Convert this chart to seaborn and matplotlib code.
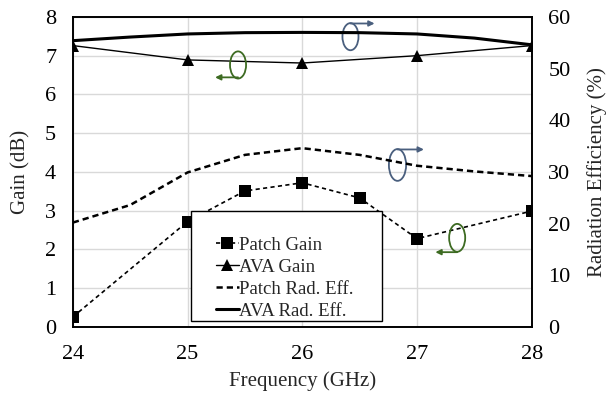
import numpy as np
import pandas as pd
import seaborn as sns
import matplotlib.pyplot as plt
from matplotlib.patches import Ellipse, Rectangle

# data
freq_gain = [24, 25, 25.5, 26, 26.5, 27, 28]
patch_gain = [0.26, 2.72, 3.51, 3.72, 3.33, 2.28, 2.99]
freq_ava = [24, 25, 26, 27, 28]
ava_gain = [7.26, 6.89, 6.81, 7.0, 7.26]
freq_eff = [24, 24.5, 25, 25.5, 26, 26.5, 27, 27.5, 28]
patch_eff = [20.2, 23.6, 29.9, 33.3, 34.6, 33.3, 31.2, 30.1, 29.2]
ava_eff = [55.4, 56.1, 56.7, 56.95, 57.0, 56.95, 56.7, 55.9, 54.6]

df_pg = pd.DataFrame({"Frequency": freq_gain, "Gain": patch_gain})
df_ag = pd.DataFrame({"Frequency": freq_ava, "Gain": ava_gain})
df_eff = pd.DataFrame({"Frequency": freq_eff, "Patch": patch_eff, "AVA": ava_eff})

sns.set_theme(style="white")
plt.rcParams["font.family"] = ["Liberation Serif", "DejaVu Serif"]

fig, ax1 = plt.subplots(figsize=(6.07, 3.93), dpi=100)
fig.subplots_adjust(left=0.120, right=0.876, bottom=0.168, top=0.957)
ax2 = ax1.twinx()

# gain on left axis
sns.lineplot(data=df_pg, x="Frequency", y="Gain", ax=ax1, color="black", lw=1.2,
             ls=(0, (2.5, 2)), marker="s", markersize=8, markeredgewidth=0,
             label="Patch Gain", legend=False)
sns.lineplot(data=df_ag, x="Frequency", y="Gain", ax=ax1, color="black", lw=1.0,
             marker="^", markersize=8, markeredgewidth=0,
             label="AVA Gain", legend=False)

# efficiency on right axis
sns.lineplot(data=df_eff, x="Frequency", y="Patch", ax=ax2, color="black", lw=1.8,
             ls=(0, (2.5, 1.6)), label="Patch Rad. Eff.", legend=False)
sns.lineplot(data=df_eff, x="Frequency", y="AVA", ax=ax2, color="black", lw=2.2,
             label="AVA Rad. Eff.", legend=False)

ax1.set_xlim(24, 28)
ax1.set_ylim(0, 8)
ax2.set_ylim(0, 60)
ax1.set_xticks([24, 25, 26, 27, 28])
ax1.set_yticks(range(0, 9))
ax2.set_yticks(range(0, 61, 10))
ax1.grid(True, color="#d9d9d9", lw=1.0)
ax1.set_axisbelow(True)
ax2.grid(False)

ax1.tick_params(axis="x", labelsize=16, length=0, pad=13, colors="black")
ax1.tick_params(axis="y", labelsize=16, length=0, pad=12, colors="black")
ax2.tick_params(axis="y", labelsize=16, length=0, pad=12, colors="black")
ax1.set_xlabel("Frequency (GHz)", fontsize=15)
ax1.set_ylabel("Gain (dB)", fontsize=15)
ax2.set_ylabel("Radiation Efficiency (%)", fontsize=15)
ax1.xaxis.set_label_coords(0.5, -0.142)
ax1.yaxis.set_label_coords(-0.092, 0.5)
ax2.yaxis.set_label_coords(1.121, 0.5)

for ax in (ax1, ax2):
    for s in ax.spines.values():
        s.set_color("black")
        s.set_linewidth(1.2)

# circle + arrow markers pointing to the axes
blue = "#4a5f7e"
green = "#3d6b22"
notes = [
    # (x, y, width, height, colour, arrow_y, arrow_x_end)
    (26.42, 7.49, 0.14, 0.70, blue, 7.83, 26.63),
    (25.44, 6.76, 0.14, 0.70, green, 6.44, 25.24),
    (26.83, 4.18, 0.15, 0.82, blue, 4.58, 27.06),
    (27.35, 2.30, 0.14, 0.72, green, 1.93, 27.16),
]
for x, y, w, h, c, ay, ax_end in notes:
    ax1.add_patch(Ellipse((x, y), w, h, fill=False, edgecolor=c, lw=1.3, zorder=5))
    ax1.annotate("", xy=(ax_end, ay), xytext=(x, ay),
                 arrowprops=dict(arrowstyle="-|>", color=c, lw=1.3,
                                 mutation_scale=8, shrinkA=0, shrinkB=0), zorder=5)

# legend box (Excel style, wide frame)
ax2.add_patch(Rectangle((0.257, 0.018), 0.416, 0.356, transform=ax2.transAxes,
                        facecolor="white", edgecolor="black", lw=1.0, zorder=9))
h1, l1 = ax1.get_legend_handles_labels()
h2, l2 = ax2.get_legend_handles_labels()
leg = ax2.legend(h1 + h2, l1 + l2, loc="lower left", bbox_to_anchor=(0.312, 0.024),
                 fontsize=13.5, frameon=False, handlelength=1.2, handletextpad=0.05,
                 labelspacing=0.26, borderpad=0, borderaxespad=0)
leg.set_zorder(10)

fig.savefig("out.png", dpi=100)
